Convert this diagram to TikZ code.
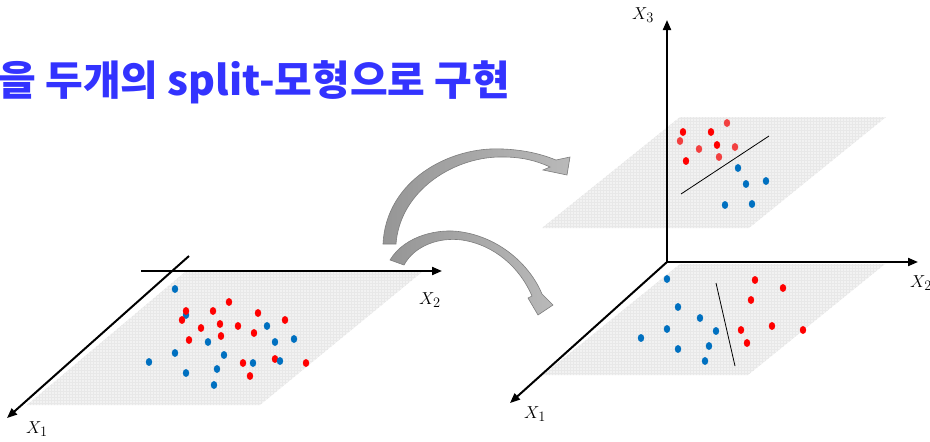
\documentclass[tikz,border=0pt]{standalone}
\usepackage{fontspec}
\newfontfamily\krfont{Noto Sans CJK KR}
\usetikzlibrary{arrows.meta,patterns}
\definecolor{dotblue}{RGB}{0,112,192}
\definecolor{dotred}{RGB}{255,0,0}
\definecolor{dotredl}{RGB}{242,64,64}
\definecolor{titleblue}{RGB}{51,51,255}
\definecolor{planegray}{RGB}{242,242,242}
\definecolor{gridgray}{RGB}{232,232,232}
\definecolor{arrdark}{RGB}{150,150,150}
\definecolor{arrlight}{RGB}{185,185,185}
\definecolor{arredge}{RGB}{125,125,125}
\newcommand\bdot[1]{\fill[dotblue] (#1) ellipse [x radius=3.2pt, y radius=3.9pt];}
\newcommand\rdot[1]{\fill[dotred] (#1) ellipse [x radius=3.2pt, y radius=3.9pt];}
\newcommand\ldot[1]{\fill[dotredl] (#1) ellipse [x radius=3.2pt, y radius=3.9pt];}
\begin{document}
\begin{tikzpicture}[x=1pt,y=-1pt,
  axis/.style={line width=2pt,-{Triangle[length=10pt,width=8pt]}},
  planefill/.style={fill=planegray},
  planegrid/.style={pattern=grid,pattern color=gridgray},
  splitline/.style={line width=0.8pt,black},
  lbl/.style={font=\fontsize{19}{19}\selectfont,inner sep=0pt},
  blockarrow/.style={draw=arredge,line width=0.6pt,left color=arrdark,right color=arrlight}]
\useasboundingbox (0,0) rectangle (930,442);

% title
\node[anchor=base west,inner sep=0pt,text=titleblue,font=\krfont\bfseries\fontsize{41}{41}\selectfont] (title) at (-2,95) {을 두개의 split-모형으로 구현};

% ---------- left figure ----------
\fill[planefill] (185,272) -- (422,272) -- (260,405) -- (27,405) -- cycle;
\fill[planegrid] (185,272) -- (422,272) -- (260,405) -- (27,405) -- cycle;
\coordinate (L1s) at (189,256);
\coordinate (L1e) at (7,418);
\coordinate (L2s) at (141,271);
\coordinate (L2e) at (442,271);
\draw[axis] (L1s) -- (L1e);
\draw[axis] (L2s) -- (L2e);
\node[lbl] (lx1) at (37,429) {$X_1$};
\node[lbl] (lx2) at (430,300) {$X_2$};

\bdot{175,289}\bdot{186,315}\bdot{267,326}\bdot{275,342}\bdot{294,339}
\bdot{208,342}\bdot{175,353}\bdot{224,355}\bdot{149,362}\bdot{253,363}
\bdot{186,373}\bdot{217,369}\bdot{214,385}
\rdot{229,302}\rdot{186,311}\rdot{213,311}\rdot{258,313}\rdot{182,320}
\rdot{220,324}\rdot{285,320}\rdot{201,328}\rdot{238,326}\rdot{254,333}
\rdot{221,336}\rdot{189,340}\rdot{243,363}\rdot{275,359}\rdot{306,363}
\rdot{250,376}
\bdot{280,361}

% ---------- right figure ----------
% upper plane
\fill[planefill] (680,117) -- (886,117) -- (749,228) -- (542,228) -- cycle;
\fill[planegrid] (680,117) -- (886,117) -- (749,228) -- (542,228) -- cycle;
% lower plane
\fill[planefill] (680,264) -- (885,264) -- (748,375) -- (543,375) -- cycle;
\fill[planegrid] (680,264) -- (885,264) -- (748,375) -- (543,375) -- cycle;

\coordinate (O) at (667,262);
\coordinate (R3e) at (667,20);
\coordinate (R2e) at (918,262);
\coordinate (R1e) at (510,403);
\draw[axis] (O) -- (R3e);
\draw[axis] (O) -- (R2e);
\draw[axis] (O) -- (R1e);
\node[lbl] (rx3) at (643,15) {$X_3$};
\node[lbl] (rx2) at (921,283) {$X_2$};
\node[lbl] (rx1) at (535,414) {$X_1$};

% upper split
\coordinate (us1) at (681,194);
\coordinate (us2) at (769,136);
\draw[splitline] (us1) -- (us2);
\rdot{683,132}\rdot{711,132}\ldot{727,123}\ldot{680,141}\ldot{699,149}
\rdot{717,145}\ldot{735,147}\ldot{719,157}\rdot{686,161}
\bdot{738,168}\bdot{746,184}\bdot{766,181}\bdot{725,205}\bdot{752,204}

% lower split
\coordinate (ls1) at (716,283);
\coordinate (ls2) at (735,366);
\draw[splitline] (ls1) -- (ls2);
\bdot{667,279}\bdot{678,307}\bdot{700,318}\bdot{667,329}\bdot{716,331}
\bdot{641,338}\bdot{678,349}\bdot{709,346}\bdot{705,361}
\rdot{755,280}\rdot{783,288}\rdot{751,300}\rdot{741,330}\rdot{772,326}
\rdot{803,330}\rdot{747,343}

% ---------- curved block arrows ----------
\path[blockarrow] (383,244) .. controls (386,180) and (450,146) .. (503,149)
  .. controls (525,150) and (541,154) .. (556,160)
  -- (570,157) -- (567,175) -- (543,170) -- (550,167)
  .. controls (535,160) and (520,157) .. (503,157)
  .. controls (455,156) and (400,190) .. (396,244) -- cycle;
\path[blockarrow] (390,260) .. controls (405,235) and (440,228) .. (462,232)
  .. controls (500,238) and (530,265) .. (542,294)
  -- (553,305) -- (538,315) -- (528,298) -- (532,296)
  .. controls (520,268) and (495,245) .. (462,240)
  .. controls (440,237) and (415,245) .. (404,265) -- cycle;
\end{tikzpicture}
\end{document}
